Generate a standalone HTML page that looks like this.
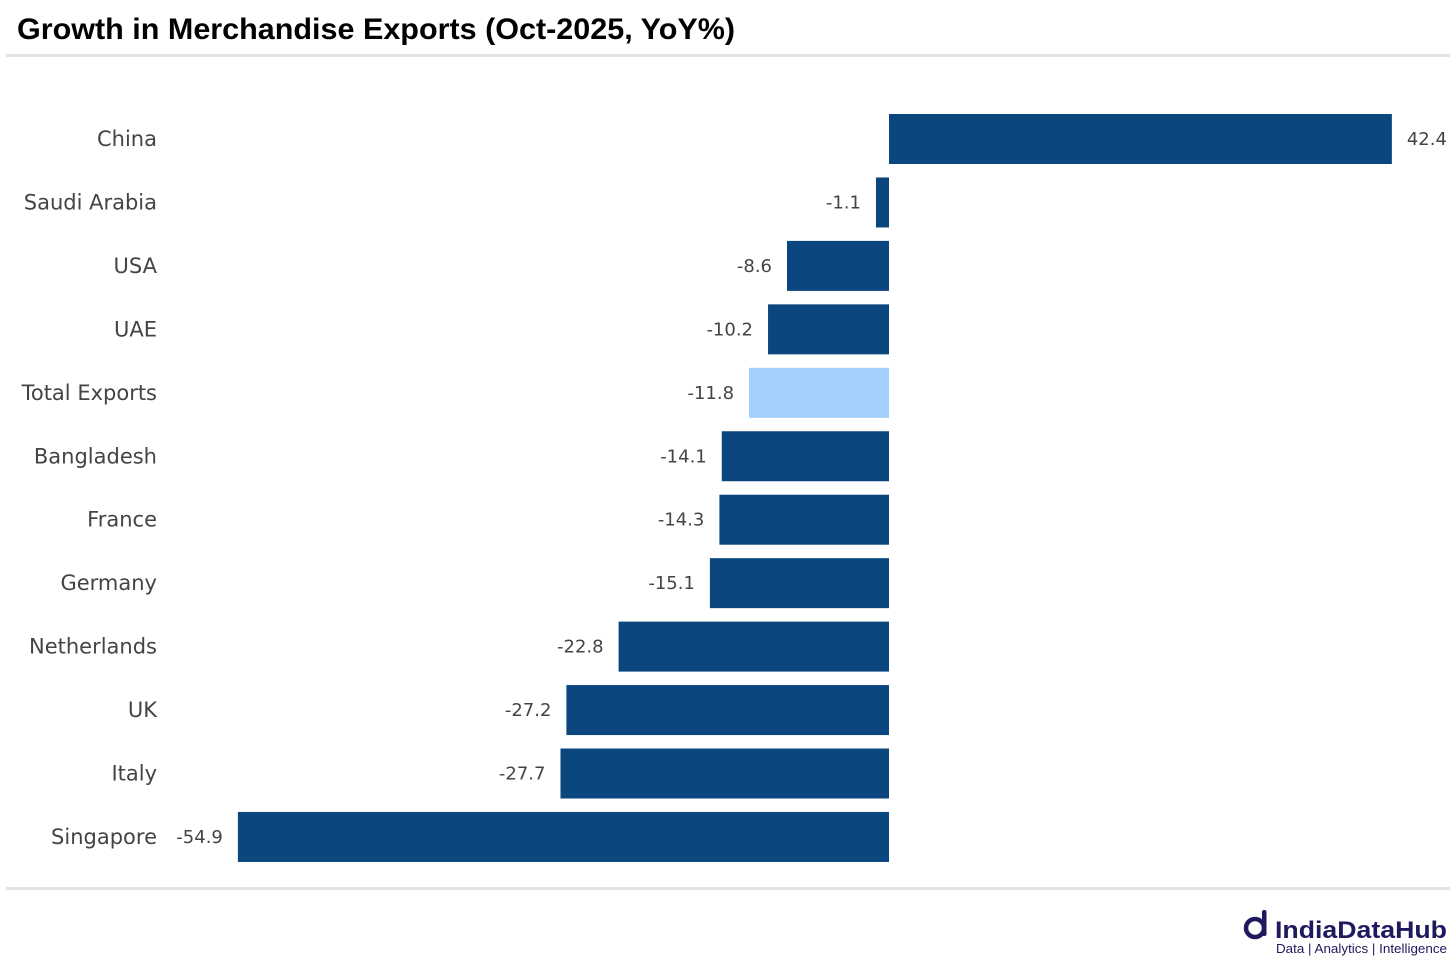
<!DOCTYPE html>
<html><head><meta charset="utf-8"><style>
body{margin:0;background:#fff;width:1456px;height:966px;overflow:hidden;font-family:"DejaVu Sans","Liberation Sans",sans-serif}
</style></head><body>
<svg id="chart" width="1456" height="966" xmlns="http://www.w3.org/2000/svg">
<text x="17" y="39" font-family="Liberation Sans, sans-serif" font-weight="bold" font-size="30" textLength="718" lengthAdjust="spacingAndGlyphs" fill="#000">Growth in Merchandise Exports (Oct-2025, YoY%)</text>
<rect x="6" y="54" width="1444" height="3" fill="#e2e2e2"/>
<rect x="6" y="887" width="1444" height="3" fill="#e2e2e2"/>
<g id="bars"></g>
<g>
<circle cx="1255" cy="928" r="9" fill="none" stroke="#1f1a5e" stroke-width="4.5"/>
<rect x="1262" y="910" width="4.5" height="26" rx="2" fill="#1f1a5e"/>
<text x="1275" y="938" font-family="Liberation Sans, sans-serif" font-weight="bold" font-size="24" textLength="172" lengthAdjust="spacingAndGlyphs" fill="#1f1a5e">IndiaDataHub</text>
<text x="1276" y="953" font-family="Liberation Sans, sans-serif" font-size="12.5" textLength="171" lengthAdjust="spacingAndGlyphs" fill="#1f1a5e">Data | Analytics | Intelligence</text>
</g>
</svg>
<script>
const categories=["China","Saudi Arabia","USA","UAE","Total Exports","Bangladesh","France","Germany","Netherlands","UK","Italy","Singapore"];
const values=[42.4,-1.1,-8.6,-10.2,-11.8,-14.1,-14.3,-15.1,-22.8,-27.2,-27.7,-54.9];
const highlight=["Total Exports"];
const ns="http://www.w3.org/2000/svg";
const x0=889, pxPer=11.86, top0=114, pitch=63.45, bh=50;
const xs=v=>x0+v*pxPer;
const ys=i=>top0+i*pitch;
const g=document.getElementById('bars');
categories.forEach((c,i)=>{
  const v=values[i];
  const r=document.createElementNS(ns,'rect');
  
  
  const a=Math.min(xs(0),xs(v)), w=Math.abs(xs(v)-xs(0));
  r.setAttribute('x',a);r.setAttribute('y',ys(i));r.setAttribute('width',w);r.setAttribute('height',bh);
  r.setAttribute('fill',highlight.includes(c)?'#a3d0fd':'#0b467f');
  g.appendChild(r);
  const l=document.createElementNS(ns,'text');
  
  
  l.setAttribute('x',157);l.setAttribute('y',ys(i)+bh/2+7);
  l.setAttribute('text-anchor','end');l.setAttribute('font-size','21');l.setAttribute('fill','#444');
  l.textContent=c;g.appendChild(l);
  const t=document.createElementNS(ns,'text');
  
  
  t.setAttribute('y',ys(i)+bh/2+6);t.setAttribute('font-size','18');t.setAttribute('fill','#444');
  if(v>=0){t.setAttribute('x',xs(v)+15);t.setAttribute('text-anchor','start');}
  else{t.setAttribute('x',xs(v)-15);t.setAttribute('text-anchor','end');}
  t.textContent=v.toFixed(1);g.appendChild(t);
});
</script>
</body></html>
